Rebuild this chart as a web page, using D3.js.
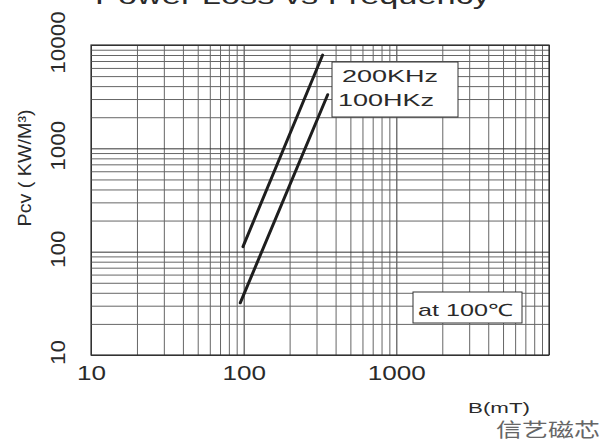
<!DOCTYPE html>
<html>
<head>
<meta charset="utf-8">
<script src="https://cdn.jsdelivr.net/npm/d3@7"></script>
<style>
  body { margin: 0; background: #fff; }
  text { font-family: "Liberation Sans", Arial, sans-serif; fill: #2a2a2a; }
</style>
</head>
<body>
<svg width="609" height="441"></svg>
<script>
// values
var xTicks = [10, 100, 1000],
    yTicks = [10, 100, 1000, 10000];
var series200 = [{b: 99, p: 112}, {b: 329, p: 8000}],
    series100 = [{b: 95, p: 32}, {b: 355, p: 3300}];
var legendLabels = ["200KHz", "100HKz"];
var noteLabel = "at 100\u2103";

var svg = d3.select("svg"),
    margin = {top: 45, right: 60, bottom: 86, left: 91},
    width = +svg.attr("width") - margin.left - margin.right,
    height = +svg.attr("height") - margin.top - margin.bottom;

var x = d3.scaleLog().domain([10, 10000]).range([0, width]),
    y = d3.scaleLog().domain([10, 10000]).range([height, 0]);

var g = svg.append("g")
    .attr("transform", "translate(" + margin.left + "," + margin.top + ")");

// minor + major grid (2..9 in each decade)
var gridVals = [];
[10, 100, 1000].forEach(function(d) {
  for (var k = 1; k <= 9; k++) gridVals.push(d * k);
});
gridVals.push(10000);

function gridColor(d) { return [10, 100, 1000, 10000].indexOf(d) >= 0 ? "#333" : "#666"; }

g.append("g")
    .attr("class", "grid grid--x")
    .attr("transform", "translate(0," + height + ")")
    .call(d3.axisBottom(x).tickValues(gridVals).tickSize(-height).tickFormat(""))
    .call(function(s) { s.select(".domain").remove(); })
    .selectAll("line")
      .style("stroke", gridColor)
      .style("stroke-width", 1);

g.append("g")
    .attr("class", "grid grid--y")
    .call(d3.axisLeft(y).tickValues(gridVals).tickSize(-width).tickFormat(""))
    .call(function(s) { s.select(".domain").remove(); })
    .selectAll("line")
      .style("stroke", gridColor)
      .style("stroke-width", 1);

// frame
g.append("rect")
    .attr("width", width)
    .attr("height", height)
    .style("fill", "none")
    .style("stroke", "#333")
    .style("stroke-width", 1.2);

// tick labels
g.append("g")
    .attr("class", "axis axis--x")
    .attr("transform", "translate(0," + height + ")")
    .call(d3.axisBottom(x).tickValues(xTicks).tickSize(0).tickFormat(d3.format("d")))
    .call(function(s) { s.select(".domain").remove(); })
    .selectAll("text")
      .attr("y", 25)
      .attr("dy", 0)
      .attr("textLength", function(d) { return String(d).length * 14.5; })
      .attr("lengthAdjust", "spacingAndGlyphs")
      .style("font-size", "21px")
      .style("font-family", "Liberation Sans, Arial, sans-serif")
      .style("fill", "#2a2a2a");

g.append("g")
    .attr("class", "axis axis--y")
    .call(d3.axisLeft(y).tickValues(yTicks).tickSize(0).tickFormat(d3.format("d")))
    .call(function(s) { s.select(".domain").remove(); })
    .selectAll("text")
      .attr("x", 0)
      .attr("dy", 0)
      .attr("transform", "translate(-26,-3) rotate(-90)")
      .style("text-anchor", "middle")
      .attr("textLength", function(d) { return String(d).length * 12.5; })
      .attr("lengthAdjust", "spacingAndGlyphs")
      .style("font-size", "21px")
      .style("font-family", "Liberation Sans, Arial, sans-serif")
      .style("fill", "#2a2a2a");

// curves
var line = d3.line()
    .x(function(d) { return x(d.b); })
    .y(function(d) { return y(d.p); });

[series200, series100].forEach(function(s) {
  g.append("path")
      .datum(s)
      .attr("class", "line")
      .attr("d", line)
      .style("stroke", "#1e1e1e")
      .style("fill", "none")
      .style("stroke-width", "3px")
      .style("stroke-linecap", "round");
});

// legend box
g.append("rect")
    .attr("x", 241).attr("y", 17)
    .attr("width", 126).attr("height", 55)
    .style("fill", "#fff")
    .style("stroke", "#333")
    .style("stroke-width", 1);

g.selectAll(".legend")
  .data(legendLabels)
  .enter().append("text")
    .attr("class", "legend")
    .attr("x", function(d, i) { return i ? 247 : 251; })
    .attr("y", function(d, i) { return 37 + i * 24; })
    .attr("textLength", 96)
    .attr("lengthAdjust", "spacingAndGlyphs")
    .style("font-size", "17px")
    .text(function(d) { return d; });

// temperature note
g.append("rect")
    .attr("x", 322).attr("y", 247)
    .attr("width", 109).attr("height", 31)
    .style("fill", "#fff")
    .style("stroke", "#333")
    .style("stroke-width", 1);

g.append("text")
    .attr("x", 327).attr("y", 271)
    .attr("textLength", 95)
    .attr("lengthAdjust", "spacingAndGlyphs")
    .style("font-size", "17px")
    .text(noteLabel);

// title (cut off at the top of the scan)
svg.append("text")
    .attr("x", 95).attr("y", 4)
    .attr("textLength", 395)
    .attr("lengthAdjust", "spacingAndGlyphs")
    .style("font-size", "24px")
    .text("Power Loss vs Frequency");

// axis titles
svg.append("text")
    .attr("transform", "translate(31,168) rotate(-90)")
    .style("text-anchor", "middle")
    .style("font-size", "18px")
    .attr("textLength", 117)
    .attr("lengthAdjust", "spacingAndGlyphs")
    .text("Pcv ( KW/M\u00b3)");

svg.append("text")
    .attr("x", 468).attr("y", 413)
    .attr("textLength", 62)
    .attr("lengthAdjust", "spacingAndGlyphs")
    .style("font-size", "15px")
    .text("B(mT)");

svg.append("text")
    .attr("x", 496).attr("y", 437)
    .attr("textLength", 104)
    .attr("lengthAdjust", "spacingAndGlyphs")
    .style("font-size", "19px")
    .style("font-family", "Noto Sans CJK SC, sans-serif")
    .style("fill", "#666")
    .text("信艺磁芯");
</script>
</body>
</html>
